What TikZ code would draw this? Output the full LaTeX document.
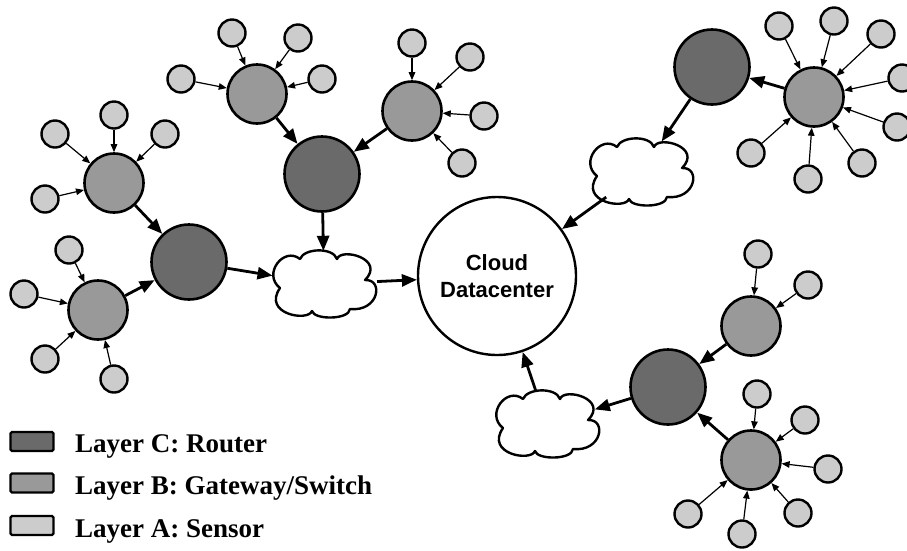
\documentclass[tikz,border=0pt]{standalone}
\usepackage{fontspec}
\setmainfont{Liberation Serif}
\setsansfont{Liberation Sans}
\usetikzlibrary{shapes.geometric,arrows.meta}
\definecolor{routergray}{HTML}{6A6A6A}
\definecolor{gatewaygray}{HTML}{999999}
\definecolor{sensorgray}{HTML}{CCCCCC}

\begin{document}
\begin{tikzpicture}[x=1pt,y=-1pt,
  sensor/.style={circle, draw, line width=2.4pt, fill=sensorgray, minimum size=27pt, inner sep=0pt},
  gateway/.style={circle, draw, line width=2.6pt, fill=gatewaygray, minimum size=59pt, inner sep=0pt},
  router/.style={circle, draw, line width=2.6pt, fill=routergray, minimum size=75pt, inner sep=0pt},
  datacenter/.style={circle, draw, line width=2.4pt, fill=white, minimum size=158pt, inner sep=0pt,
    align=center, font=\sffamily\bfseries\fontsize{22}{27}\selectfont},
  % invisible ellipse that gives the cloud its border for connectors
  netcloud/.style={ellipse, minimum width=104pt, minimum height=64pt, inner sep=0pt, outer sep=1.2pt},
  cloudline/.style={draw, line width=2.4pt, fill=white, line join=round},
  feed/.style={-{Triangle[length=8pt,width=6.5pt]}, line width=1.2pt},
  uplink/.style={-{Triangle[length=15pt,width=12pt]}, line width=2.8pt},
  legendbox/.style={draw, line width=2.4pt, rounded corners=1.5pt},
  legendtext/.style={anchor=base west, inner sep=0pt, font=\rmfamily\bfseries\fontsize{27}{32}\selectfont},
  puffcloud/.pic={
    \path[cloudline] (-24,-25)
      .. controls (-20,-36) and (9,-37) .. (13,-25)
      .. controls (17,-37) and (62,-25) .. (41,-4)
      .. controls (60,-5) and (55,28) .. (26,25)
      .. controls (25,36) and (-10,36) .. (-12,27)
      .. controls (-16,38) and (-62,30) .. (-44,4)
      .. controls (-62,-10) and (-40,-38) .. cycle;
  }
]
\useasboundingbox (0,0) rectangle (907,550);

% ---- core ----
\node[datacenter] (dc) at (497,276) {Cloud\\Datacenter};

% ---- network clouds ----
\node[netcloud] (c1) at (324,284) {};
\node[netcloud] (c2) at (641,172) {};
\node[netcloud] (c3) at (547,424) {};
\pic at (c1.center) {puffcloud};
\pic at (c2.center) {puffcloud};
\pic at (c3.center) {puffcloud};

% ---- left-hand clusters ----
\node[router] (r1) at (322,174) {};
\node[router] (r2) at (189,262) {};

\node[gateway] (g1) at (114,183) {};
\node[sensor] (g1a) at (114,115) {};
\node[sensor] (g1b) at (55,134) {};
\node[sensor] (g1c) at (165,134) {};
\node[sensor] (g1d) at (45,199) {};

\node[gateway] (g4) at (98,310) {};
\node[sensor] (g4a) at (69,250) {};
\node[sensor] (g4b) at (24,294) {};
\node[sensor] (g4c) at (45,359) {};
\node[sensor] (g4d) at (114,379) {};

\node[gateway] (g2) at (257,94) {};
\node[sensor] (g2a) at (232,33) {};
\node[sensor] (g2b) at (298,38) {};
\node[sensor] (g2c) at (181,79) {};
\node[sensor] (g2d) at (322,79) {};

\node[gateway] (g3) at (412,111) {};
\node[sensor] (g3a) at (412,43) {};
\node[sensor] (g3b) at (470,57) {};
\node[sensor] (g3c) at (484,116) {};
\node[sensor] (g3d) at (462,163) {};

% ---- upper right cluster ----
\node[router] (r3) at (712,67) {};
\node[gateway] (g5) at (814,97) {};
\node[sensor] (g5a) at (779,26) {};
\node[sensor] (g5b) at (834,21) {};
\node[sensor] (g5c) at (881,34) {};
\node[sensor] (g5d) at (902,78) {};
\node[sensor] (g5e) at (897,127) {};
\node[sensor] (g5f) at (751,153) {};
\node[sensor] (g5g) at (808,179) {};
\node[sensor] (g5h) at (862,163) {};

% ---- lower right cluster ----
\node[router] (r4) at (668,387) {};
\node[gateway] (g6) at (751,326) {};
\node[sensor] (g6a) at (758,254) {};
\node[sensor] (g6b) at (808,285) {};
\node[gateway] (g7) at (751,460) {};
\node[sensor] (g7a) at (757,394) {};
\node[sensor] (g7b) at (805,420) {};
\node[sensor] (g7c) at (828,469) {};
\node[sensor] (g7d) at (798,513) {};
\node[sensor] (g7e) at (742,534) {};
\node[sensor] (g7f) at (688,514) {};

% ---- sensor feeds ----
\foreach \g/\list in {g1/{g1a,g1b,g1c,g1d}, g4/{g4a,g4b,g4c,g4d}, g2/{g2a,g2b,g2c,g2d},
                      g3/{g3a,g3b,g3c,g3d}, g5/{g5a,g5b,g5c,g5d,g5e,g5f,g5g,g5h},
                      g6/{g6a,g6b}, g7/{g7a,g7b,g7c,g7d,g7e,g7f}}
  \foreach \s in \list
    \draw[feed] (\s) -- (\g);

% ---- uplinks ----
\draw[uplink] (g1) -- (r2);
\draw[uplink] (g4) -- (r2);
\draw[uplink] (g2) -- (r1);
\draw[uplink] (g3) -- (r1);
\draw[uplink] (r1) -- (c1);
\draw[uplink] (r2) -- (c1);
\draw[uplink] (c1) -- (dc);
\draw[uplink] (g5) -- (r3);
\draw[uplink] (r3) -- (c2);
\draw[uplink] (c2) -- (dc);
\draw[uplink] (g6) -- (r4);
\draw[uplink] (g7) -- (r4);
\draw[uplink] (r4) -- (c3);
\draw[uplink] (c3) -- (dc);

% ---- legend ----
\node[legendbox, fill=routergray, minimum width=43pt, minimum height=19pt, inner sep=0pt] (lc) at (32,441.5) {};
\node[legendbox, fill=gatewaygray, minimum width=43pt, minimum height=19pt, inner sep=0pt] (lb) at (32,483) {};
\node[legendbox, fill=sensorgray, minimum width=43pt, minimum height=19pt, inner sep=0pt] (la) at (32,525.5) {};
\node[legendtext] (lct) at (75,452) {Layer C: Router};
\node[legendtext] (lbt) at (75,494) {Layer B: Gateway/Switch};
\node[legendtext] (lat) at (75,537) {Layer A: Sensor};
\end{tikzpicture}
\end{document}
